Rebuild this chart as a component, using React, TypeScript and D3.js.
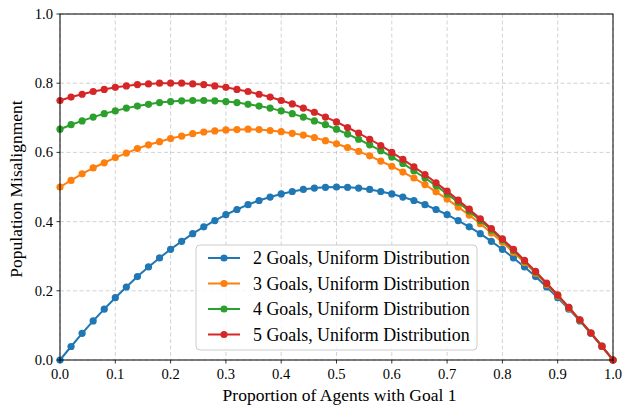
import React from "react";
import * as d3 from "d3";

const xs = [0, 0.02, 0.04, 0.06, 0.08, 0.1, 0.12, 0.14, 0.16, 0.18, 0.2, 0.22, 0.24, 0.26, 0.28, 0.3, 0.32, 0.34, 0.36, 0.38, 0.4, 0.42, 0.44, 0.46, 0.48, 0.5, 0.52, 0.54, 0.56, 0.58, 0.6, 0.62, 0.64, 0.66, 0.68, 0.7, 0.72, 0.74, 0.76, 0.78, 0.8, 0.82, 0.84, 0.86, 0.88, 0.9, 0.92, 0.94, 0.96, 0.98, 1];

const goals2 = [0, 0.039, 0.077, 0.113, 0.147, 0.18, 0.211, 0.241, 0.269, 0.295, 0.32, 0.343, 0.365, 0.385, 0.403, 0.42, 0.435, 0.449, 0.461, 0.471, 0.48, 0.487, 0.493, 0.497, 0.499, 0.5, 0.499, 0.497, 0.493, 0.487, 0.48, 0.471, 0.461, 0.449, 0.435, 0.42, 0.403, 0.385, 0.365, 0.343, 0.32, 0.295, 0.269, 0.241, 0.211, 0.18, 0.147, 0.113, 0.077, 0.039, 0];
const goals3 = [0.5, 0.519, 0.538, 0.555, 0.57, 0.585, 0.598, 0.611, 0.622, 0.631, 0.64, 0.647, 0.654, 0.659, 0.662, 0.665, 0.666, 0.667, 0.666, 0.663, 0.66, 0.655, 0.65, 0.643, 0.634, 0.625, 0.614, 0.603, 0.59, 0.575, 0.56, 0.543, 0.526, 0.507, 0.486, 0.465, 0.442, 0.419, 0.394, 0.367, 0.34, 0.311, 0.282, 0.251, 0.218, 0.185, 0.15, 0.115, 0.078, 0.039, 0];
const goals4 = [0.667, 0.68, 0.691, 0.702, 0.712, 0.72, 0.728, 0.734, 0.739, 0.744, 0.747, 0.749, 0.75, 0.75, 0.749, 0.747, 0.744, 0.739, 0.734, 0.728, 0.72, 0.712, 0.702, 0.691, 0.68, 0.667, 0.653, 0.638, 0.622, 0.605, 0.587, 0.568, 0.547, 0.526, 0.504, 0.48, 0.456, 0.43, 0.403, 0.376, 0.347, 0.317, 0.286, 0.254, 0.221, 0.187, 0.152, 0.115, 0.078, 0.04, 0];
const goals5 = [0.75, 0.76, 0.768, 0.776, 0.782, 0.788, 0.792, 0.796, 0.798, 0.8, 0.8, 0.8, 0.798, 0.796, 0.792, 0.788, 0.782, 0.776, 0.768, 0.76, 0.75, 0.74, 0.728, 0.716, 0.702, 0.688, 0.672, 0.656, 0.638, 0.62, 0.6, 0.58, 0.558, 0.536, 0.512, 0.488, 0.462, 0.436, 0.408, 0.38, 0.35, 0.32, 0.288, 0.256, 0.222, 0.188, 0.152, 0.116, 0.078, 0.04, 0];

const seriesNames = [
  "2 Goals, Uniform Distribution",
  "3 Goals, Uniform Distribution",
  "4 Goals, Uniform Distribution",
  "5 Goals, Uniform Distribution",
];
const seriesValues = [goals2, goals3, goals4, goals5];
const colors = ["#1f77b4", "#ff7f0e", "#2ca02c", "#d62728"];
const xTicks = [0, 0.1, 0.2, 0.3, 0.4, 0.5, 0.6, 0.7, 0.8, 0.9, 1.0];
const yTicks = [0, 0.2, 0.4, 0.6, 0.8, 1.0];

const W = 624;
const H = 408;
const L = 60, R = 613, T = 14, B = 360;
const FONT = "'Liberation Serif', 'Times New Roman', serif";

export default function App() {
  const x = d3.scaleLinear().domain([0, 1]).range([L, R]);
  const y = d3.scaleLinear().domain([0, 1]).range([B, T]);
  const line = d3.line<number>().x((_, i) => x(xs[i])).y((d) => y(d));

  const legX = 196, legY = 245, legW = 281, legH = 105;
  const rowY = [258, 283.5, 309, 334.5];

  return (
    <svg width={W} height={H} style={{ position: "absolute", left: 0, top: 0, background: "#fff" }} fontFamily={FONT}>
      <rect x={0} y={0} width={W} height={H} fill="#fff" />
      <g>
        {xTicks.map((t) => (
          <line key={"gx" + t} x1={x(t)} x2={x(t)} y1={T} y2={B} stroke="#b0b0b0" strokeOpacity={0.7} strokeWidth={0.8} strokeDasharray="4,2.5" />
        ))}
        {yTicks.map((t) => (
          <line key={"gy" + t} x1={L} x2={R} y1={y(t)} y2={y(t)} stroke="#b0b0b0" strokeOpacity={0.7} strokeWidth={0.8} strokeDasharray="4,2.5" />
        ))}
      </g>
      <g>
        {seriesValues.map((vals, si) => (
          <g key={si}>
            <path d={line(vals) || ""} fill="none" stroke={colors[si]} strokeWidth={2} />
            {vals.map((v, i) => (
              <circle key={i} cx={x(xs[i])} cy={y(v)} r={3.6} fill={colors[si]} />
            ))}
          </g>
        ))}
      </g>
      <rect x={L} y={T} width={R - L} height={B - T} fill="none" stroke="#000" strokeWidth={1} />
      {xTicks.map((t) => (
        <g key={"xt" + t}>
          <line x1={x(t)} x2={x(t)} y1={B} y2={B + 3.5} stroke="#000" strokeWidth={0.8} />
          <text x={x(t)} y={B + 18.5} textAnchor="middle" fontSize={14.6} fill="#000">{t.toFixed(1)}</text>
        </g>
      ))}
      {yTicks.map((t) => (
        <g key={"yt" + t}>
          <line x1={L - 3.5} x2={L} y1={y(t)} y2={y(t)} stroke="#000" strokeWidth={0.8} />
          <text x={L - 7} y={y(t) + 5} textAnchor="end" fontSize={14.6} fill="#000">{t.toFixed(1)}</text>
        </g>
      ))}
      <text x={(L + R) / 2 + 3} y={401} textAnchor="middle" fontSize={17.5} fill="#000">Proportion of Agents with Goal 1</text>
      <text transform={`translate(22, ${(T + B) / 2 + 2}) rotate(-90)`} textAnchor="middle" fontSize={17.5} fill="#000">Population Misalignment</text>
      <g>
        <rect x={legX} y={legY} width={legW} height={legH} rx={4} ry={4} fill="#fff" fillOpacity={0.8} stroke="#cccccc" strokeWidth={1} />
        {seriesNames.map((n, i) => (
          <g key={n}>
            <line x1={208} x2={240} y1={rowY[i]} y2={rowY[i]} stroke={colors[i]} strokeWidth={2} />
            <circle cx={224} cy={rowY[i]} r={3.6} fill={colors[i]} />
            <text x={253} y={rowY[i] + 6} fontSize={17.9} fill="#000">{n}</text>
          </g>
        ))}
      </g>
    </svg>
  );
}
